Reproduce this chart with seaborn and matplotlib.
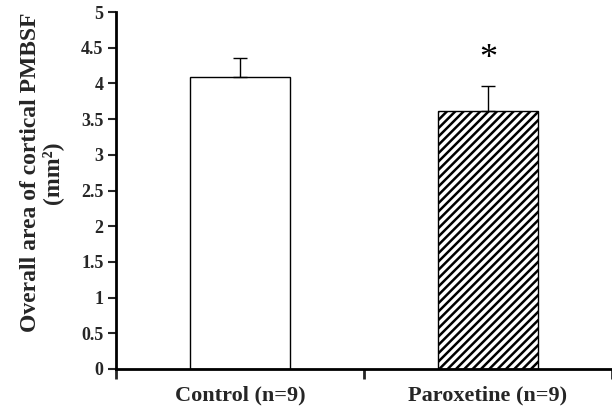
import matplotlib
matplotlib.use("Agg")
import matplotlib.pyplot as plt
import seaborn as sns
import pandas as pd

groups = ["Control (n=9)", "Paroxetine (n=9)"]
means = [4.09, 3.62]
sems = [0.27, 0.34]
yticks = [0, 0.5, 1, 1.5, 2, 2.5, 3, 3.5, 4, 4.5, 5]
ytick_labels = ["0", "0.5", "1", "1.5", "2", "2.5", "3", "3.5", "4", "4.5", "5"]
sig_marker = ["", "*"]

sns.set_style("white")
plt.rcParams["font.family"] = ["Liberation Serif", "DejaVu Serif"]
plt.rcParams["font.weight"] = "bold"
plt.rcParams["hatch.linewidth"] = 1.8

df = pd.DataFrame({"group": groups, "mean": means})

fig = plt.figure(figsize=(6.12, 4.16), dpi=100)
ax = fig.add_axes([0.1895, 0.113, 0.8105, 0.858])

sns.barplot(data=df, x="group", y="mean", ax=ax, color="white", width=0.4,
            edgecolor="black", linewidth=1.0, errorbar=None)
for patch, h in zip(ax.patches, ["", "////"]):
    patch.set_hatch(h)
    patch.set_facecolor("white")
    patch.set_edgecolor("black")

ax.errorbar(range(len(groups)), means, yerr=[[0] * len(sems), sems], fmt="none",
            ecolor="black", elinewidth=1.0, capsize=5, capthick=1.0, zorder=1)

for i, (m, s, t) in enumerate(zip(means, sems, sig_marker)):
    if t:
        ax.text(i, m + s + 0.38, t, ha="center", va="center", fontsize=26,
                fontweight="normal", color="black")

ax.set_xlim(-0.5, 1.5)
ax.set_ylim(0, 5)
ax.set_yticks(yticks)
ax.set_yticklabels(ytick_labels, fontsize=13, fontweight="bold")
ax.set_xticks([0, 1])
ax.set_xticklabels(groups, fontsize=16, fontweight="bold")
ax.set_xticks([-0.5, 0.5, 1.5], minor=True)
ax.tick_params(axis="x", which="major", length=0, pad=12)
ax.tick_params(axis="x", which="minor", length=7, width=2, direction="out", bottom=True)
ax.tick_params(axis="y", length=6, width=1.5, direction="out", left=True, pad=3)
ax.set_xlabel("")
ax.set_ylabel("Overall area of cortical PMBSF\n(mm²)", fontsize=17, fontweight="bold",
              linespacing=1.0)
ax.yaxis.set_label_coords(-0.107, 0.55)

for side in ["top", "right"]:
    ax.spines[side].set_visible(False)
for side in ["left", "bottom"]:
    ax.spines[side].set_visible(True)
    ax.spines[side].set_color("black")
    ax.spines[side].set_linewidth(2)

fig.savefig("out.png", dpi=100)
